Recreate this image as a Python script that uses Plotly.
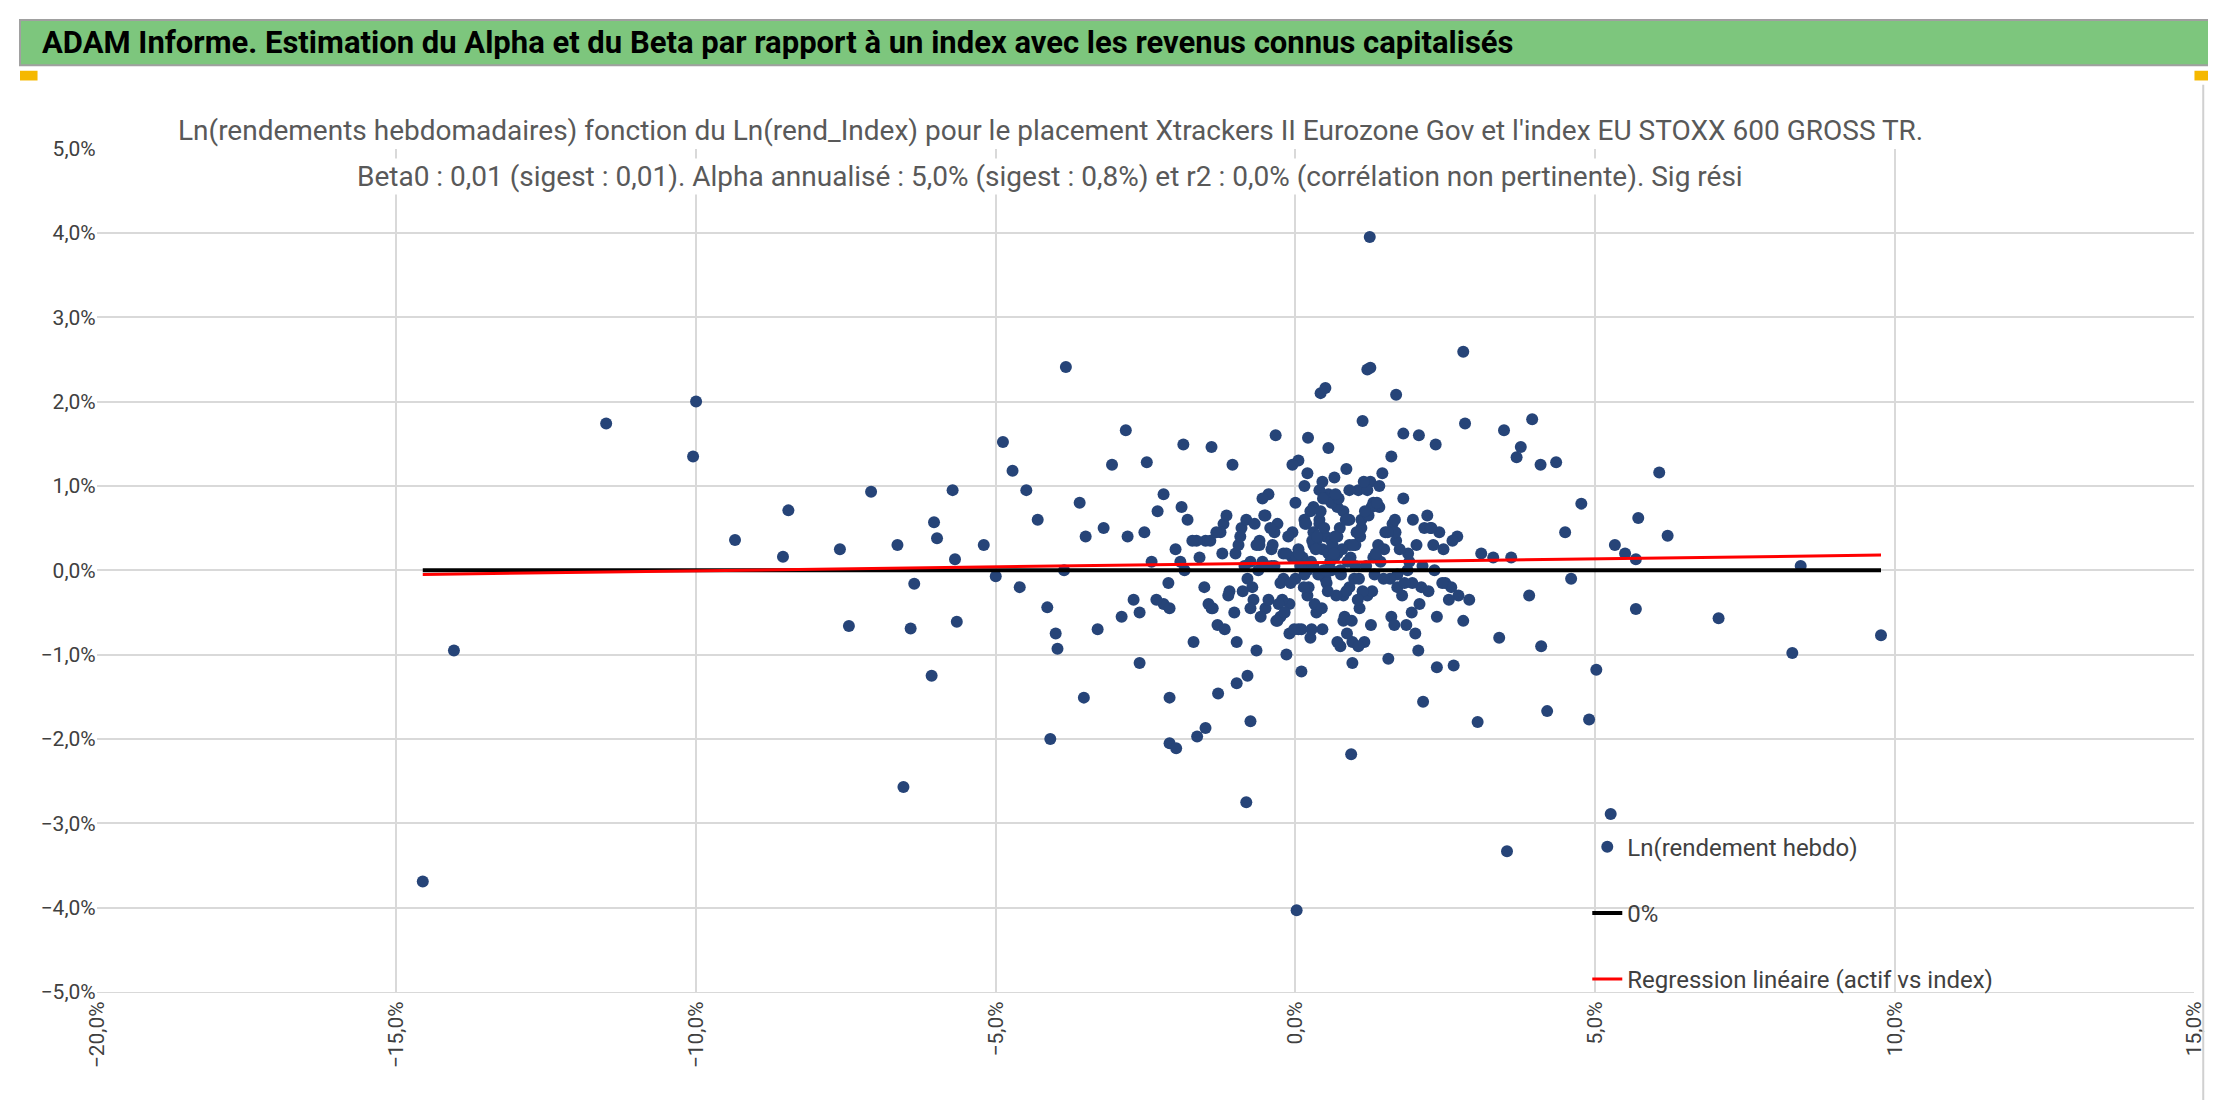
import plotly.graph_objects as go

# rendements hebdo (en %): points isoles
x_isoles = [1.24, -3.83, 2.8, 1.2, 1.25, 1.68, 0.42, 0.5, 2.83, -11.5, -10.0, -10.05, -9.35, -8.46, -8.55,
            -7.08, -7.6, -7.45, -6.64, -6.03, -5.98, -5.72, -6.07, -6.42, -6.36, -6.54, -4.09, -3.53, -4.88,
            -4.49, -4.72, -5.65, -5.68, -14.04, -14.56, -0.82, 0.02, 3.53, 5.26, 5.02, 4.9, 4.2, 3.04, 0.93,
            6.07, 6.21, 5.72, 5.68, 5.68, 7.06, 8.43, 8.29, 9.77, 5.33, 4.77, 4.09, 4.35, 3.95, 3.76, -1.5,
            -2.1, -1.99, -1.64, -2.1, -2.83, -2.48, -3.06, -1.87, -1.4, 0.21, -0.33, 1.12, 1.8, 2.06, 2.34,
            3.69, 3.48, -3.86, -4.14, -3.97, -4.0, -5.0, 2.13, 2.36, 2.64, -1.29, -0.98, -0.75, -4.3, -5.2,
            -4.6, -3.3, -2.6, 4.5, 4.1, 3.9, 5.5, 4.6, -3.6, -2.9, -2.2]
y_isoles = [3.95, 2.41, 2.59, 2.38, 2.4, 2.08, 2.1, 2.16, 1.74, 1.74, 2.0, 1.35, 0.36, 0.71, 0.16,
            0.93, 0.25, -0.66, 0.3, 0.57, 0.38, 0.95, -1.25, -0.69, -0.16, -2.57, -2.0, -1.51, 1.52,
            0.95, 1.18, -0.61, 0.13, -0.95, -3.69, -2.75, -4.03, -3.33, -2.89, -1.18, -1.77, -1.67, -1.8, -2.18,
            1.16, 0.41, 0.62, 0.13, -0.46, -0.57, 0.05, -0.98, -0.77, 0.3, 0.79, 1.25, 1.28, 1.79, 1.46, -1.87,
            -2.05, -2.11, -1.97, -1.51, 1.66, 1.28, 1.25, 1.49, 1.46, 1.57, 1.6, 1.77, 1.62, 1.6, 1.49,
            1.34, 1.66, 0.0, -0.44, -0.93, -0.75, -0.07, -1.56, -1.15, -1.13, -1.46, -1.34, -1.79, 0.6, 0.3,
            -0.2, -0.7, -1.1, 0.45, -0.9, -0.3, 0.2, -0.1, 0.8, -0.55, 0.9]

# nuage central
x_nuage = [0.1, 0.3, 0.5, -0.2, 0.7, 0.9, -0.4, 1.1, 0.2, -0.6, 1.3, 0.4, -0.1, 0.6, 0.8, -0.8, 1.5, 0.0,
           -1.0, 1.7, 0.35, 0.55, -0.3, 1.0, 1.2, -1.2, 1.9, 0.15, -0.5, 2.1, 0.45, 0.65, -0.7, 1.4, -1.4,
           2.3, 0.25, 0.85, -0.9, 1.6, -1.6, 2.5, 0.05, 0.75, -1.1, 1.8, -1.8, 2.7, 0.6, -0.15, 1.05, -1.3,
           2.0, -2.0, 2.9, 0.4, 0.95, -0.45, 1.25, -1.5, 2.2, -2.2, 3.1, 0.3, 0.7, -0.25, 1.45, -1.7, 2.4,
           -2.4, 0.1, 0.5, 0.9, -0.65, 1.65, -1.9, 2.6, -2.6, 0.2, 0.8, -0.35, 1.35, -1.05, 2.8, -2.8, 0.0,
           0.6, 1.15, -0.55, 1.55, -1.25, 1.95, -2.3, 3.3, 0.45, 0.3, 0.15, -0.05, 0.65, 0.85, 1.0, -0.75,
           -0.95, 1.7, 2.15, -1.45, -1.65, 2.45, 0.55, 0.35, 0.75, -0.2, 1.1, 1.3, -0.4, 0.25, 0.05, 0.9,
           -3.2, -2.7, 3.4, 3.6, -3.5, 2.25, -2.1, 1.85, -1.85, 0.4, 0.2, 0.7, 0.5, 1.2, -0.1, -0.3, 0.95,
           1.4, -0.6, -0.8, 1.6, 2.05, -1.15, 0.1, 0.6, 0.3, 0.8, -0.05, 1.05, 0.45, 0.15, -0.5, 0.55]
y_nuage = [0.1, 0.3, -0.1, 0.2, 0.4, -0.2, 0.05, 0.5, -0.3, 0.35, 0.15, 0.6, -0.4, 0.25, 0.7, -0.1,
           0.45, 0.8, 0.2, -0.05, -0.5, 0.9, -0.6, 0.3, -0.3, 0.55, 0.1, 1.0, 0.65, -0.2, -0.7, 1.1,
           -0.35, 0.75, -0.45, 0.3, -0.8, 1.2, 0.5, -0.55, 0.15, -0.15, 1.3, -0.9, -0.25, 0.85, 0.6, 0.4,
           0.0, -1.0, 0.95, -0.65, -0.75, 0.25, -0.35, 0.55, -1.1, 0.9, 1.05, 0.35, 0.65, -0.4, 0.2, 0.75,
           0.2, -0.55, 1.15, -0.85, 0.45, 0.1, -1.2, 0.4, 0.6, -0.95, -0.65, 0.75, -0.2, -0.5, 0.0, -0.3,
           0.05, 0.15, 1.25, -0.6, 0.4, -0.1, 0.35, -0.85, 0.85, -1.05, 0.45, -0.15, 0.7, 0.15, 0.25, 0.05,
           -0.05, 0.45, 0.15, -0.25, 0.05, 0.1, 0.3, -0.2, 0.5, -0.4, 0.35, -0.15, 0.2, 0.35, 0.0, -0.1,
           0.6, 0.8, 0.25, 0.7, -0.7, 0.3, 0.5, -0.35, -0.8, 0.15, 0.4, 0.5, -0.45, -0.65, 0.0, 0.95,
           1.15, 0.75, 0.85, 0.95, -0.75, 0.55, -0.85, 1.0, 0.3, -1.25, 1.35, -0.95, 0.65, -0.7, 0.8, 0.45,
           -0.6, 1.25, -0.9, 1.05, 0.6, -0.45, 1.45, 0.25]

# coeur dense du nuage
x_coeur = [0.05, 0.12, 0.22, 0.28, 0.38, 0.48, 0.58, 0.68, 0.78, 0.88, 0.98, 1.08, 1.18, 1.28, 1.38,
           -0.05, -0.15, -0.25, -0.35, -0.45, -0.55, -0.65, -0.75, -0.85, 1.48, 1.58, 1.68, 1.78, 1.88,
           0.08, 0.18, 0.32, 0.42, 0.52, 0.62, 0.72, 0.82, 0.92, 1.02, 1.12, 1.22, 1.32, -0.12, -0.32,
           -0.52, -0.72, -0.92, -1.12, 1.42, 1.62, 1.82, 2.02, 2.22, 0.02, 0.27, 0.47, 0.67, 0.87, 1.07,
           1.27, -0.22, -0.42, -0.62, -0.82, -1.02, -1.22, -1.42, 1.47, 1.67, 1.87, 2.07, 2.27, 2.47,
           0.14, 0.34, 0.54, 0.74, 0.94, 1.14, 1.34, -0.08, -0.28, -0.48, -0.68, -0.88, 1.54, 1.74, 1.94,
           0.36, 0.56, 0.76, 0.96, 1.16, 0.16, -0.18, -0.38, -0.58, 1.36, 0.44, 0.64, 0.84, 1.04, 0.24,
           -1.32, -1.52, -1.72, 2.12, 2.32, 2.62, -1.92, 2.72, -2.12, 0.06, 0.46, 0.86, 1.26, -0.02,
           -0.98, -1.18, -1.38, 1.66, 1.96, 2.36, -2.32, -2.52, 2.56, 0.66, 0.26, 1.06, 0.9, 0.7, 0.5]
y_coeur = [0.15, -0.2, 0.35, -0.05, 0.5, 0.1, -0.3, 0.25, 0.6, -0.1, 0.4, 0.05, -0.25, 0.3, 0.15,
           0.2, -0.15, 0.45, -0.35, 0.1, 0.3, -0.45, 0.05, 0.25, -0.1, 0.35, -0.3, 0.2, 0.05,
           0.55, -0.4, 0.7, -0.15, 0.3, 0.85, -0.55, 0.15, 0.45, -0.25, 0.65, -0.05, 0.4, -0.6, 0.65,
           -0.2, 0.4, -0.3, 0.1, 0.55, -0.15, 0.3, -0.25, 0.15, -0.7, 0.0, 0.9, 0.1, -0.45, 0.75,
           -0.35, 0.5, 0.0, 0.6, -0.5, 0.2, 0.35, -0.1, 0.45, 0.0, -0.4, 0.5, 0.25, -0.2,
           0.25, -0.25, 0.5, -0.6, 1.05, 0.2, -0.15, -0.4, 0.05, 0.55, -0.25, 0.45, 0.25, -0.5, 0.4,
           0.0, -0.05, 0.3, 0.7, 0.55, -0.5, 0.3, -0.55, 0.8, -0.45, 0.2, 0.6, -0.35, 0.05, 0.45,
           -0.2, 0.35, 0.05, 0.0, 0.35, 0.1, -0.3, -0.15, 0.2, 0.85, -0.75, -0.65, -0.7, -0.85,
           -0.7, -0.45, 0.6, 0.6, -0.55, -0.35, 0.45, -0.35, 0.4, 0.1, -0.1, 0.95, -0.85, 0.0, 0.15]

x_hebdo = [v / 100 for v in x_isoles + x_nuage + x_coeur]
y_hebdo = [v / 100 for v in y_isoles + y_nuage + y_coeur]

x_ligne = [-0.1456, 0.0977]
y_zero = [0.0, 0.0]
y_regression = [-0.0005, 0.0018]

police = 'Roboto'
titre_1 = "Ln(rendements hebdomadaires) fonction du Ln(rend_Index) pour le placement Xtrackers II Eurozone Gov et l'index EU STOXX 600 GROSS TR."
titre_2 = "Beta0 : 0,01 (sigest : 0,01). Alpha annualisé : 5,0% (sigest : 0,8%) et r2 : 0,0% (corrélation non pertinente). Sig rési"

fig = go.Figure()
fig.add_trace(go.Scatter(x=x_hebdo, y=y_hebdo, mode='markers', name='Ln(rendement hebdo)',
                         marker=dict(color='#264478', size=12), legendgroup='a'))
fig.add_trace(go.Scatter(x=x_ligne, y=y_zero, mode='lines', name='0%',
                         line=dict(color='black', width=4), legendgroup='b'))
fig.add_trace(go.Scatter(x=x_ligne, y=y_regression, mode='lines', name='Regression linéaire (actif vs index)',
                         line=dict(color='#ff0000', width=3), legendgroup='c'))

# bandeau vert du titre
fig.add_shape(type='rect', xref='paper', yref='paper', x0=0, x1=1, y0=0.958, y1=1,
              fillcolor='#7dc67d', line=dict(color='#a0a0a0', width=2), layer='below')
fig.add_shape(type='rect', xref='paper', yref='paper', x0=0, x1=0.008, y0=0.944, y1=0.953,
              fillcolor='#f5b800', line=dict(width=0))
fig.add_shape(type='rect', xref='paper', yref='paper', x0=0.992, x1=1, y0=0.944, y1=0.953,
              fillcolor='#f5b800', line=dict(width=0))
fig.add_shape(type='line', xref='paper', yref='paper', x0=0.996, x1=0.996, y0=0, y1=0.94,
              line=dict(color='#d0d0d0', width=2))
fig.add_annotation(xref='paper', yref='paper', x=0.009, y=0.979, xanchor='left', yanchor='middle',
                   text='<b>ADAM Informe. Estimation du Alpha et du Beta par rapport à un index avec les revenus connus capitalisés</b>',
                   showarrow=False, font=dict(family=police, size=31, color='black'))
fig.add_annotation(xref='paper', yref='paper', x=0.47, y=0.898, xanchor='center', yanchor='middle',
                   text=titre_1, showarrow=False, bgcolor='white',
                   font=dict(family=police, size=28, color='#595959'))
fig.add_annotation(xref='paper', yref='paper', x=0.47, y=0.855, xanchor='center', yanchor='middle',
                   text=titre_2, showarrow=False, bgcolor='white',
                   font=dict(family=police, size=28, color='#595959'))

fig.update_xaxes(domain=[0.035, 0.992], range=[-0.2, 0.15], dtick=0.05, tickformat='.1%', tickangle=-90,
                 showgrid=True, gridcolor='#d9d9d9', gridwidth=2, zeroline=False,
                 showline=True, linecolor='#d9d9d9', tickfont=dict(family=police, size=21, color='#404040'))
fig.update_yaxes(domain=[0.1, 0.881], range=[-0.05, 0.05], dtick=0.01, tickformat='.1%',
                 showgrid=True, gridcolor='#d9d9d9', gridwidth=2, zeroline=False,
                 tickfont=dict(family=police, size=21, color='#404040'))
fig.update_layout(width=2216, height=1104, margin=dict(l=0, r=0, t=0, b=0), separators=', ',
                  plot_bgcolor='white', paper_bgcolor='white',
                  legend=dict(x=0.715, y=0.255, xanchor='left', yanchor='top', bgcolor='rgba(255,255,255,0)',
                              tracegroupgap=32, font=dict(family=police, size=24, color='#404040')))
fig.write_html("out.html")
